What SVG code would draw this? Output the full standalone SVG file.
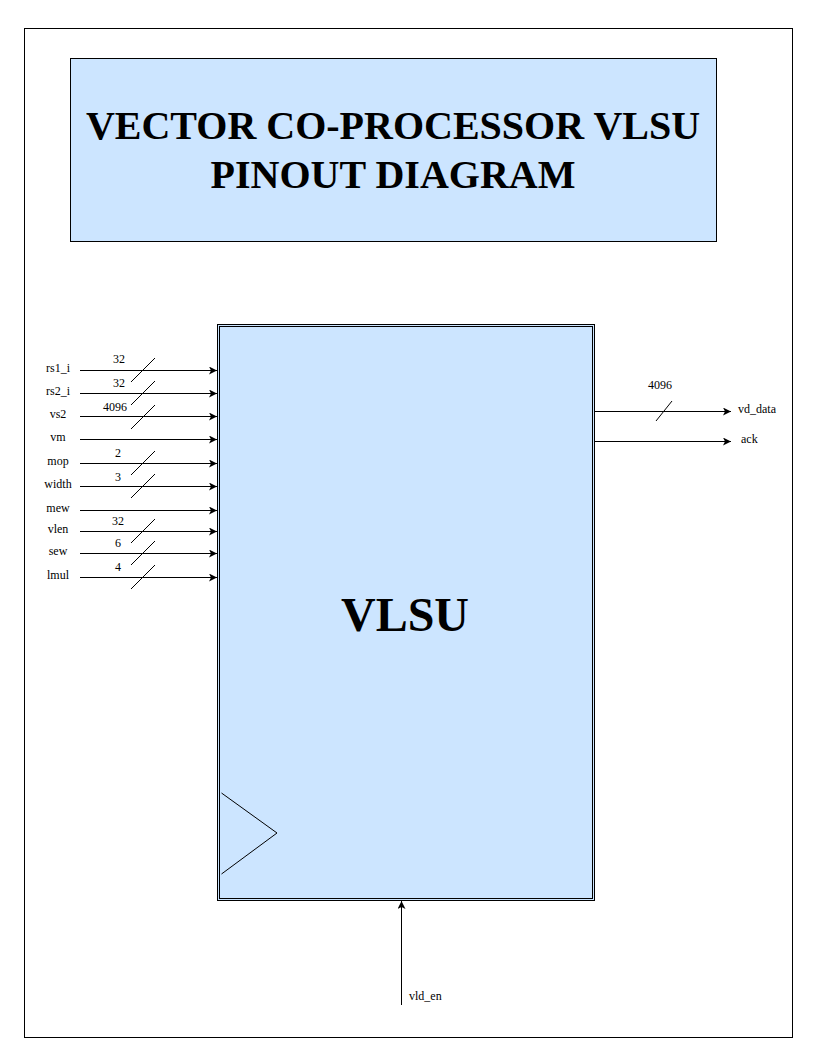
<svg xmlns="http://www.w3.org/2000/svg" width="824" height="1063" viewBox="0 0 824 1063">
<style>
.t{font-family:"Liberation Serif","Times New Roman",serif;fill:#000}
.s{font-size:12px}
.w{stroke:#000;stroke-width:1;fill:none}
.b{fill:#cce5ff;stroke:#000;stroke-width:1}
</style>
<defs>
<marker id="a" markerWidth="10" markerHeight="10" refX="8" refY="4" orient="auto" markerUnits="userSpaceOnUse">
<path d="M0,0 L8,4 L0,8 L2,4 Z" fill="#000"/>
</marker>
</defs>
<rect x="24.5" y="28.5" width="768" height="1009" fill="#fff" stroke="#000"/>
<g id="title">
<rect class="b" x="70.5" y="58.5" width="646" height="183"/>
<text class="t" x="393" y="139" font-size="40" font-weight="bold" text-anchor="middle">VECTOR CO-PROCESSOR VLSU</text>
<text class="t" x="393" y="188" font-size="40" font-weight="bold" text-anchor="middle">PINOUT DIAGRAM</text>
</g>
<g id="vlsu">
<rect class="b" x="217.5" y="324.5" width="377" height="576"/>
<rect class="w" x="219.5" y="326.5" width="373" height="572"/>
<path class="w" d="M221.5,793 L277,833 L221.5,874"/>
<text class="t" x="405" y="631" font-size="48" font-weight="bold" text-anchor="middle">VLSU</text>
</g>
<g id="connectors">
<g class="w" marker-end="url(#a)">
<path d="M80,370.5 H217"/>
<path d="M80,393.5 H217"/>
<path d="M80,416.5 H217"/>
<path d="M80,439.5 H217"/>
<path d="M80,463.5 H217"/>
<path d="M80,486.5 H217"/>
<path d="M80,510.5 H217"/>
<path d="M80,531.5 H217"/>
<path d="M80,553.5 H217"/>
<path d="M80,577.5 H217"/>
<path d="M595,411.5 H731"/>
<path d="M595,441.5 H731"/>
<path d="M401.5,1005 V901"/>
</g>
<g class="w">
<path d="M131,382 L155,358"/>
<path d="M131,405 L155,381"/>
<path d="M131,429 L155,405"/>
<path d="M131,475 L155,451"/>
<path d="M131,498 L155,474"/>
<path d="M131,543 L155,519"/>
<path d="M131,565 L155,541"/>
<path d="M131,589 L155,565"/>
<path d="M656,421 L672,401"/>
</g>
</g>
<g id="labels" class="t s">
<text x="58" y="372" text-anchor="middle">rs1_i</text>
<text x="58" y="395" text-anchor="middle">rs2_i</text>
<text x="58" y="418" text-anchor="middle">vs2</text>
<text x="58" y="441" text-anchor="middle">vm</text>
<text x="58" y="465" text-anchor="middle">mop</text>
<text x="58" y="488" text-anchor="middle">width</text>
<text x="58" y="512" text-anchor="middle">mew</text>
<text x="58" y="533" text-anchor="middle">vlen</text>
<text x="58" y="555" text-anchor="middle">sew</text>
<text x="58" y="579" text-anchor="middle">lmul</text>
<text x="119" y="363" text-anchor="middle">32</text>
<text x="119" y="387" text-anchor="middle">32</text>
<text x="115" y="411" text-anchor="middle">4096</text>
<text x="118" y="457" text-anchor="middle">2</text>
<text x="118" y="481" text-anchor="middle">3</text>
<text x="118" y="525" text-anchor="middle">32</text>
<text x="118" y="547" text-anchor="middle">6</text>
<text x="118" y="571" text-anchor="middle">4</text>
<text x="660" y="389" text-anchor="middle">4096</text>
<text x="738" y="413">vd_data</text>
<text x="741" y="443">ack</text>
<text x="409" y="1000">vld_en</text>
</g>
</svg>
